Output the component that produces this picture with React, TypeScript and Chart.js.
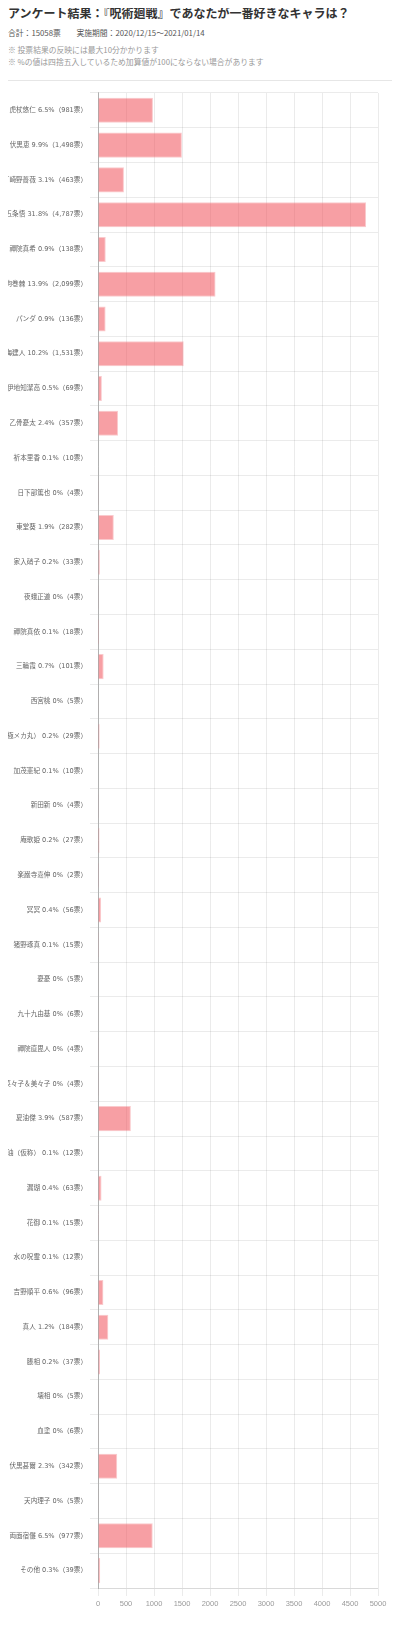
import React, { useRef, useEffect } from 'react';
import { Chart, registerables } from 'chart.js';

Chart.register(...registerables);

const names = [
  '虎杖悠仁', '伏黒恵', '釘崎野薔薇', '五条悟', '禪院真希', '狗巻棘', 'パンダ', '七海建人',
  '伊地知潔高', '乙骨憂太', '祈本里香', '日下部篤也', '東堂葵', '家入硝子', '夜蛾正道', '禪院真依',
  '三輪霞', '西宮桃', '与幸吉（究極メカ丸）', '加茂憲紀', '新田新', '庵歌姫', '楽巌寺嘉伸', '冥冥',
  '猪野琢真', '憂憂', '九十九由基', '禪院直毘人', '菜々子＆美々子', '夏油傑', '偽夏油（仮称）', '漏瑚',
  '花御', '水の呪霊', '吉野順平', '真人', '脹相', '壊相', '血塗', '伏黒甚爾',
  '天内理子', '両面宿儺', 'その他',
];

const votes = [
  981, 1498, 463, 4787, 138, 2099, 136, 1531,
  69, 357, 10, 4, 282, 33, 4, 18,
  101, 5, 29, 10, 4, 27, 2, 56,
  15, 5, 6, 4, 4, 587, 12, 63,
  15, 12, 96, 184, 37, 5, 6, 342,
  5, 977, 39,
];

const percents = [
  '6.5', '9.9', '3.1', '31.8', '0.9', '13.9', '0.9', '10.2',
  '0.5', '2.4', '0.1', '0', '1.9', '0.2', '0', '0.1',
  '0.7', '0', '0.2', '0.1', '0', '0.2', '0', '0.4',
  '0.1', '0', '0', '0', '0', '3.9', '0.1', '0.4',
  '0.1', '0.1', '0.6', '1.2', '0.2', '0', '0', '2.3',
  '0', '6.5', '0.3',
];

const xMax = 5000;
const xStep = 500;

const totalVotes = 15058;
const period = '2020/12/15〜2021/01/14';

const FONT = '"Noto Sans CJK JP", "Noto Sans", sans-serif';
const TICK_FONT = '"Liberation Sans", "Noto Sans CJK JP", sans-serif';
const LABEL_FONT = '"DejaVu Sans", "Noto Sans CJK JP", sans-serif';

const VoteChart: React.FC = () => {
  const chartRef = useRef<HTMLCanvasElement>(null);
  const chartInstance = useRef<Chart | null>(null);

  useEffect(() => {
    if (!chartRef.current) return;
    if (chartInstance.current) {
      chartInstance.current.destroy();
    }

    // ラベル: 名前 + 割合 + 票数
    const labels = names.map(
      (n, i) => `${n} ${percents[i]}%（${votes[i].toLocaleString('en-US')}票）`
    );

    chartInstance.current = new Chart(chartRef.current, {
      type: 'bar',
      data: {
        labels,
        datasets: [
          {
            data: votes,
            backgroundColor: 'rgba(240, 80, 90, 0.55)',
            borderColor: 'rgba(240, 80, 90, 0.3)',
            borderWidth: 1,
          },
        ],
      },
      options: {
        indexAxis: 'y',
        responsive: true,
        maintainAspectRatio: false,
        animation: false,
        layout: {
          padding: { top: 5, bottom: 5, left: 0, right: 22 },
        },
        plugins: {
          legend: { display: false },
          tooltip: { enabled: false },
        },
        scales: {
          x: {
            min: 0,
            max: xMax,
            grid: { color: 'rgba(0, 0, 0, 0.08)' },
            border: { color: 'rgba(0, 0, 0, 0.08)' },
            ticks: {
              stepSize: xStep,
              color: '#9a9a9a',
              font: { family: TICK_FONT, size: 7.5 },
              callback: (value) => String(value),
            },
          },
          y: {
            // 軸幅を固定（長いラベルは左端で切れる）
            afterFit: (scale: any) => {
              scale.width = 98;
            },
            grid: { color: 'rgba(0, 0, 0, 0.08)' },
            border: { color: 'rgba(0, 0, 0, 0.25)' },
            ticks: {
              color: '#666',
              autoSkip: false,
              font: { family: LABEL_FONT, size: 6.6 },
            },
          },
        },
      },
    });

    return () => {
      if (chartInstance.current) {
        chartInstance.current.destroy();
        chartInstance.current = null;
      }
    };
  }, []);

  return (
    <div style={{ position: 'relative', width: '400px', height: '1530px', marginTop: '5px' }}>
      <canvas ref={chartRef} />
    </div>
  );
};

export default function App() {
  return (
    <div style={{ margin: '-8px', width: '400px', fontFamily: FONT }}>
      <div
        style={{
          height: '26px',
          lineHeight: '26px',
          paddingLeft: '8px',
          fontSize: '12px',
          fontWeight: 'bold',
          color: '#333',
          whiteSpace: 'nowrap',
        }}
      >
        アンケート結果：『呪術廻戦』であなたが一番好きなキャラは？
      </div>
      <div
        style={{
          marginTop: '1px',
          height: '12px',
          lineHeight: '12px',
          paddingLeft: '8px',
          fontSize: '7.8px',
          color: '#555',
          whiteSpace: 'pre',
        }}
      >
        {`合計：${totalVotes}票　　実施期間：${period}`}
      </div>
      <div
        style={{
          marginTop: '5px',
          height: '12px',
          lineHeight: '12px',
          paddingLeft: '8px',
          fontSize: '7.8px',
          color: '#999',
        }}
      >
        ※ 投票結果の反映には最大10分かかります
      </div>
      <div
        style={{
          height: '12px',
          lineHeight: '12px',
          paddingLeft: '8px',
          fontSize: '7.8px',
          color: '#999',
        }}
      >
        ※ %の値は四捨五入しているため加算値が100にならない場合があります
      </div>
      <div style={{ marginTop: '12px', height: '1px', background: '#e6e6e6' }} />
      <VoteChart />
      <div style={{ marginTop: '7px', height: '1px', background: '#e6e6e6' }} />
    </div>
  );
}
